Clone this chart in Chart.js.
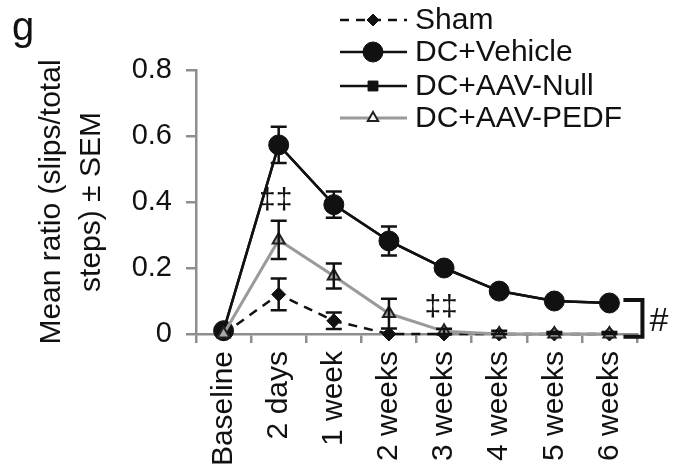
<!DOCTYPE html>
<html>
<head>
<meta charset="utf-8">
<script src="https://cdn.jsdelivr.net/npm/chart.js@4/dist/chart.umd.min.js"></script>
<style>
  html, body { margin: 0; padding: 0; background: #fff; }
  #wrap { position: relative; width: 680px; height: 471px; }
</style>
</head>
<body>
<div id="wrap"><canvas id="my-chart" width="680" height="471"></canvas></div>
<script>
const timepoints = ["Baseline", "2 days", "1 week", "2 weeks", "3 weeks", "4 weeks", "5 weeks", "6 weeks"];
const seriesNames = ["Sham", "DC+Vehicle", "DC+AAV-Null", "DC+AAV-PEDF"];

const sham = [0, 0.12, 0.04, 0, 0, 0, 0, 0];
const vehicle = [0.01, 0.573, 0.392, 0.282, 0.2, 0.13, 0.1, 0.094];
const aavNull = [0.01, 0.573, 0.392, 0.282, 0.2, 0.13, 0.1, 0.094];
const pedf = [0, 0.285, 0.176, 0.062, 0.008, 0, 0, 0];

const shamErr = [0, 0.048, 0.025, 0, 0, 0, 0, 0];
const vehicleErr = [0.005, 0.055, 0.04, 0.044, 0.01, 0.01, 0.008, 0.008];
const aavNullErr = [0, 0, 0, 0, 0, 0, 0, 0];
const pedfErr = [0, 0.058, 0.038, 0.045, 0.008, 0.01, 0.006, 0.006];

const yTicks = [0, 0.2, 0.4, 0.6, 0.8];

// significance marks
const markText = ["‡‡", "‡‡"];
const markAt = ["2 days", "3 weeks"];
const markY = [0.405, 0.079];

const FONT = "'Liberation Sans', Arial, sans-serif";
const axisGrey = "#8e8e8e";
const ink = "#111";

const errorBars = {
    id: "errorBars",
    afterDatasetDraw(chart, args) {
        const ds = chart.data.datasets[args.index];
        if (!ds.err) return;
        const ctx = chart.ctx;
        const x = chart.scales.x, y = chart.scales.y;
        ctx.save();
        ctx.strokeStyle = ink;
        ctx.lineWidth = 2.5;
        ds.data.forEach((v, i) => {
            const e = ds.err[i];
            if (!e) return;
            const px = x.getPixelForValue(i);
            const top = y.getPixelForValue(v + e);
            const bot = y.getPixelForValue(Math.max(v - e, 0));
            ctx.beginPath();
            ctx.moveTo(px, top); ctx.lineTo(px, bot);
            ctx.moveTo(px - 8, top); ctx.lineTo(px + 8, top);
            ctx.moveTo(px - 8, bot); ctx.lineTo(px + 8, bot);
            ctx.stroke();
        });
        ctx.restore();
    }
};

const extras = {
    id: "extras",
    afterDraw(chart) {
        const ctx = chart.ctx;
        const x = chart.scales.x, y = chart.scales.y;
        ctx.save();
        // panel letter
        ctx.fillStyle = ink;
        ctx.font = "40px " + FONT;
        ctx.textBaseline = "alphabetic";
        ctx.textAlign = "left";
        ctx.fillText("g", 12, 40);

        // significance marks
        ctx.font = "30px " + FONT;
        ctx.textAlign = "center";
        ctx.textBaseline = "middle";
        markText.forEach((t, i) => {
            ctx.fillText(t, x.getPixelForValue(timepoints.indexOf(markAt[i])) - 3, y.getPixelForValue(markY[i]));
        });

        // bracket + #
        const last = timepoints.length - 1;
        const bx = x.getPixelForValue(last);
        const bTop = y.getPixelForValue(0.103);
        const bBot = y.getPixelForValue(-0.008);
        ctx.strokeStyle = ink;
        ctx.lineWidth = 4;
        ctx.beginPath();
        ctx.moveTo(bx + 14, bTop); ctx.lineTo(bx + 33, bTop);
        ctx.lineTo(bx + 33, bBot); ctx.lineTo(bx + 14, bBot);
        ctx.stroke();
        ctx.font = "34px " + FONT;
        ctx.textAlign = "left";
        ctx.fillText("#", bx + 40, y.getPixelForValue(0.038));

        // legend
        const rows = [20, 52, 86, 118];
        chart.data.datasets.forEach((ds, i) => {
            const ly = rows[i];
            ctx.save();
            ctx.strokeStyle = ds.borderColor;
            ctx.lineWidth = ds.borderWidth;
            ctx.setLineDash(ds.borderDash || []);
            ctx.beginPath();
            ctx.moveTo(340, ly); ctx.lineTo(407, ly);
            ctx.stroke();
            ctx.setLineDash([]);
            ctx.fillStyle = ds.legendFill || ds.pointBackgroundColor;
            ctx.strokeStyle = ds.pointBorderColor;
            ctx.lineWidth = ds.pointBorderWidth;
            Chart.helpers.drawPoint(ctx, {
                pointStyle: ds.pointStyle,
                radius: ds.legendRadius,
                borderWidth: ds.pointBorderWidth
            }, 373, ly);
            ctx.restore();
            ctx.fillStyle = ink;
            ctx.font = "30px " + FONT;
            ctx.textAlign = "left";
            ctx.textBaseline = "middle";
            ctx.fillText(seriesNames[i], 415, ly + 1);
        });
        ctx.restore();
    }
};

new Chart(document.getElementById("my-chart"), {
    type: "line",
    data: {
        labels: timepoints,
        datasets: [
            {
                label: seriesNames[0], data: sham, err: shamErr, order: 1,
                borderColor: ink, borderWidth: 2.5, borderDash: [9, 7],
                pointStyle: "rectRot", pointRadius: 7, legendRadius: 6,
                pointBackgroundColor: ink, pointBorderColor: ink, pointBorderWidth: 1,
                clip: false
            },
            {
                label: seriesNames[1], data: vehicle, err: vehicleErr, order: 2,
                borderColor: ink, borderWidth: 2.5,
                pointStyle: "circle", pointRadius: 10, legendRadius: 10,
                pointBackgroundColor: ink, pointBorderColor: ink, pointBorderWidth: 1,
                clip: false
            },
            {
                label: seriesNames[2], data: aavNull, err: aavNullErr, order: 3,
                borderColor: ink, borderWidth: 2.5,
                pointStyle: "rect", pointRadius: 7, legendRadius: 7,
                pointBackgroundColor: ink, pointBorderColor: ink, pointBorderWidth: 1,
                clip: false
            },
            {
                label: seriesNames[3], data: pedf, err: pedfErr, order: 0,
                borderColor: "#9a9a9a", borderWidth: 3,
                pointStyle: "triangle", pointRadius: 7, legendRadius: 6,
                pointBackgroundColor: "#a8a8a8", legendFill: "#fff",
                pointBorderColor: "#222", pointBorderWidth: 2,
                clip: false
            }
        ]
    },
    options: {
        responsive: false,
        animation: false,
        layout: { padding: { left: 0, top: 70, right: 43, bottom: 0 } },
        plugins: {
            legend: { display: false },
            tooltip: { enabled: false }
        },
        elements: { line: { tension: 0 } },
        scales: {
            x: {
                offset: true,
                grid: { offset: true, drawOnChartArea: false, color: axisGrey, lineWidth: 2.5, tickLength: 9 },
                border: { color: axisGrey, width: 2.5 },
                ticks: {
                    autoSkip: false, minRotation: 90, maxRotation: 90, padding: 8,
                    color: ink, font: { family: FONT, size: 30 }
                },
                afterFit: s => { s.height = 137; }
            },
            y: {
                min: 0, max: 0.8,
                afterBuildTicks: s => { s.ticks = yTicks.map(v => ({ value: v })); },
                grid: { drawOnChartArea: false, color: axisGrey, lineWidth: 2.5, tickLength: 10 },
                border: { color: axisGrey, width: 2.5 },
                ticks: {
                    padding: 14, color: ink, font: { family: FONT, size: 29 },
                    callback: v => String(v)
                },
                title: {
                    display: true,
                    text: ["Mean ratio (slips/total", "steps) ± SEM"],
                    color: ink,
                    font: { family: FONT, size: 30, lineHeight: 1.33 },
                    padding: { top: 32, bottom: 0 }
                },
                afterFit: s => { s.width = 196; }
            }
        }
    },
    plugins: [errorBars, extras]
});
</script>
</body>
</html>
